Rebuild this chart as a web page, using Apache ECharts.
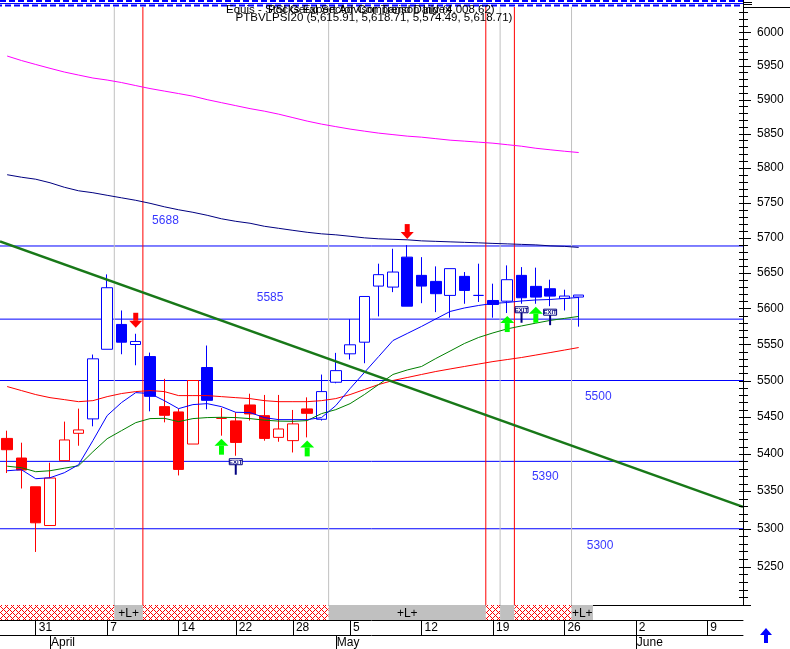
<!DOCTYPE html>
<html><head><meta charset="utf-8">
<script src="https://cdn.jsdelivr.net/npm/echarts@6/dist/echarts.min.js"></script>
<style>html,body{margin:0;padding:0;background:#fff}#c{width:790px;height:649px}</style>
</head><body><div id="c"></div>
<script>
// ---------- DATA ----------
const symbolName = 'PTBVLPSI20';
const dates = ['2014-03-27','2014-03-28','2014-03-31','2014-04-01','2014-04-02','2014-04-03','2014-04-04','2014-04-07','2014-04-08','2014-04-09','2014-04-10','2014-04-11','2014-04-14','2014-04-15','2014-04-16','2014-04-17','2014-04-22','2014-04-23','2014-04-24','2014-04-25','2014-04-28','2014-04-29','2014-04-30','2014-05-02','2014-05-05','2014-05-06','2014-05-07','2014-05-08','2014-05-09','2014-05-12','2014-05-13','2014-05-14','2014-05-15','2014-05-16','2014-05-19','2014-05-20','2014-05-21','2014-05-22','2014-05-23','2014-05-26','2014-05-27','2014-05-28','2014-05-29','2014-05-30','2014-06-02','2014-06-03','2014-06-04','2014-06-05','2014-06-06','2014-06-09','2014-06-10','2014-06-11'];
const monthNames = ['January','February','March','April','May','June','July','August','September','October','November','December'];

const opens  = [5421.0,5394.5,5355.9,5304.3,5390.9,5427.9,5447.5,5543.1,5577.6,5549.7,5533.0,5464.2,5457.0,5413.4,5517.9,5448.3,5444.8,5466.5,5451.9,5422.4,5418.0,5461.1,5447.0,5497.6,5536.8,5552.9,5631.3,5629.9,5672.2,5646.4,5637.9,5618.2,5645.0,5618.2,5611.1,5610.1,5646.4,5630.9,5627.6,5613.9,5615.91];
const highs  = [5431.5,5415.2,5355.9,5388.2,5443.8,5461.5,5535.8,5647.8,5597.1,5564.6,5538.5,5502.3,5461.5,5500.0,5548.3,5462.5,5456.5,5481.9,5480.2,5480.2,5459.7,5476.9,5508.2,5538.1,5585.0,5616.7,5662.9,5684.1,5689.3,5672.2,5659.1,5655.9,5651.1,5662.9,5634.7,5660.5,5658.1,5657.3,5640.3,5626.2,5618.71];
const lows   = [5374.3,5353.6,5269.4,5304.3,5390.9,5411.1,5437.4,5543.1,5536.2,5521.0,5457.8,5442.8,5371.1,5413.4,5460.6,5424.7,5397.6,5445.2,5417.9,5416.5,5402.0,5422.4,5445.2,5496.2,5528.9,5523.8,5588.8,5622.8,5603.1,5607.3,5594.8,5587.0,5606.5,5609.0,5587.0,5593.5,5606.5,5606.5,5603.1,5597.1,5574.49];
const closes = [5405.7,5378.4,5307.9,5367.6,5418.9,5432.5,5529.9,5629.0,5552.9,5553.9,5478.3,5452.4,5379.2,5500.0,5472.8,5448.3,5415.6,5454.3,5421.0,5433.8,5440.7,5455.1,5484.8,5513.6,5549.3,5616.7,5647.4,5651.1,5603.1,5631.3,5620.6,5655.9,5625.2,5618.2,5605.5,5640.3,5614.9,5615.8,5617.2,5617.3,5618.71];
const candleTrend = ['r','r','r','r','r','r','b','b','b','b','b','r','r','r','b','r','r','r','r','r','r','r','b','b','b','b','b','b','b','b','b','b','b','b','b','b','b','b','b','b','b'];

const maShort = [5377.4,5378.8,5366.7,5368.0,5374.7,5385.5,5418.0,5452.0,5469.7,5483.4,5482.1,5472.4,5461.5,5467.0,5468.3,5464.2,5456.5,5456.1,5449.3,5446.5,5446.5,5446.5,5449.3,5465.6,5488.9,5511.0,5533.0,5555.2,5565.0,5574.8,5585.3,5595.7,5600.6,5604.1,5606.9,5608.3,5610.4,5611.8,5612.5,5613.9,5615.3];
const maMid   = [5383.5,5381.5,5376.1,5377.4,5380.8,5384.1,5402.9,5420.6,5431.5,5442.4,5447.9,5448.3,5443.8,5447.9,5449.3,5449.7,5449.3,5447.9,5445.8,5444.5,5444.2,5445.2,5454.7,5460.1,5468.3,5480.7,5494.5,5508.3,5514.5,5519.3,5530.3,5540.6,5551.1,5559.5,5565.8,5571.4,5575.5,5579.4,5583.2,5586.0,5588.8];
const maLong  = [5491.7,5486.2,5480.7,5476.5,5473.8,5471.0,5472.4,5477.9,5482.1,5484.8,5486.2,5484.8,5479.3,5479.3,5479.3,5477.9,5476.5,5475.2,5472.4,5471.0,5471.0,5471.0,5472.4,5475.2,5480.7,5487.6,5494.5,5500.0,5504.1,5508.3,5512.4,5515.9,5519.3,5522.7,5526.1,5528.9,5531.7,5535.1,5538.5,5542.0,5545.5];
const maMagenta = [5964.5,5957.8,5951.9,5946.2,5940.7,5936.2,5931.8,5928.8,5925.1,5920.6,5916.2,5912.5,5908.8,5905.0,5899.8,5895.4,5891.0,5886.6,5882.9,5878.5,5873.4,5868.3,5863.9,5860.2,5856.6,5853.6,5850.7,5848.5,5846.3,5844.8,5842.6,5840.4,5839.0,5837.5,5836.0,5833.8,5831.6,5828.6,5826.4,5824.3,5822.4];
const maNavy = [5790.2,5786.6,5783.7,5778.6,5772.1,5767.0,5764.2,5760.5,5756.9,5753.3,5749.0,5744.0,5739.7,5736.1,5731.8,5726.8,5723.2,5720.4,5716.1,5713.2,5710.3,5707.5,5705.3,5703.9,5701.8,5699.6,5698.2,5697.5,5696.8,5695.3,5694.6,5693.9,5693.2,5692.5,5691.7,5691.0,5690.3,5689.6,5688.2,5687.5,5686.0];

const levels = [5688, 5585, 5500, 5390, 5300];
const trendLine = [[-0.5, 5694.6], [51.5, 5329.1]];
const greyMarks = [7.5, 22.5, 34.5, 39.5];
const redMarks = [9.5, 33.5, 35.5];
const buyArrows = [15, 21, 35, 37];
const sellArrows = [9, 28];
const exitSignals = [16, 36, 38];
const bandStarts = [-0.5, 7.5, 9.5, 22.5, 33.5, 34.5, 35.5, 39.5];
const bandEnds   = [7.5, 9.5, 22.5, 33.5, 34.5, 35.5, 39.5, 41];
const bandKinds  = ['S', 'L', 'S', 'L', 'S', 'N', 'S', 'L'];
const yLabelValues = [5250,5300,5350,5400,5450,5500,5550,5600,5650,5700,5750,5800,5850,5900,5950,6000];

// ---------- LAYOUT / STYLE ----------
const FONT = '"Liberation Sans", Arial, sans-serif';
const BLUE = '#0000ff', RED = '#ff0000', NAVY = '#000080';
const Y_MIN = 5200, Y_MAX = 6038;
const X_MIN = -0.5, X_MAX = 51.5;
const AXIS_X = 743;
const levelLabelSpots = [[11.08, -25], [18.4, -21], [41.37, 16], [37.66, 15], [41.5, 17]];

const majorTicks = [], minorTicks = [];
for (let v = 5200; v <= 6030; v += 10) { (v % 50 === 0 ? majorTicks : minorTicks).push(v); }

const dObjs = dates.map(s => new Date(s + 'T00:00:00Z'));
const weekTicks = [], monthTicks = [];
for (let k = 1; k < dObjs.length; k++) {
  if (dObjs[k].getUTCDay() < dObjs[k-1].getUTCDay()) weekTicks.push(k);
  if (dObjs[k].getUTCMonth() !== dObjs[k-1].getUTCMonth()) monthTicks.push(k);
}

function hatchCanvas() {
  const c = document.createElement('canvas'); c.width = 6; c.height = 6;
  const g = c.getContext('2d'); g.fillStyle = '#fff'; g.fillRect(0,0,6,6);
  g.fillStyle = RED;
  for (let k = 0; k < 6; k++) { g.fillRect(k, k, 1, 1); g.fillRect((6 - k) % 6, k, 1, 1); }
  return c;
}
const hatch = hatchCanvas();

const fmt = n => n.toLocaleString('en-US', {minimumFractionDigits: 2, maximumFractionDigits: 2});
const last = opens.length - 1;
const titleLine2 = `${symbolName} (${fmt(opens[last])}, ${fmt(highs[last])}, ${fmt(lows[last])}, ${fmt(closes[last])})`;

const candleData = opens.map((o, k) => {
  const col = candleTrend[k] === 'b' ? BLUE : RED;
  const fill = closes[k] > o ? '#ffffff' : col;
  return {value: [o, closes[k], lows[k], highs[k]],
    itemStyle: {color: fill, color0: fill, borderColor: col, borderColor0: col, borderColorDoji: col, borderWidth: 1}};
});

const lineSeries = (data, color, width, z, xIdx) => ({
  type: 'line', xAxisIndex: xIdx, yAxisIndex: 0, data, symbol: 'none', showSymbol: false,
  silent: true, z, lineStyle: {color, width}, animation: false
});

const series = [];
levels.forEach(v => series.push(lineSeries([[X_MIN, v], [X_MAX, v]], BLUE, 1, 1, 1)));
greyMarks.forEach(x => series.push(lineSeries([[x, Y_MIN], [x, Y_MAX]], '#c0c0c0', 1, 1, 1)));
redMarks.forEach(x => series.push(lineSeries([[x, Y_MIN], [x, Y_MAX]], RED, 1, 1, 1)));
series.push({type: 'candlestick', xAxisIndex: 0, yAxisIndex: 0, data: candleData, barWidth: 11, z: 3, silent: true});
series.push(lineSeries(maMagenta, '#ff00ff', 1, 4, 0));
series.push(lineSeries(maNavy, NAVY, 1, 4, 0));
series.push(lineSeries(maLong, RED, 1, 4, 0));
series.push(lineSeries(maMid, '#008000', 1, 4, 0));
series.push(lineSeries(maShort, BLUE, 1, 4, 0));
series.push(lineSeries(trendLine, '#187818', 2.5, 5, 1));

// level labels
series.push({
  type: 'scatter', xAxisIndex: 1, yAxisIndex: 0, symbolSize: 0, z: 6, silent: true,
  data: levels.map((v, j) => ({value: [levelLabelSpots[j][0], v], label: {offset: [0, levelLabelSpots[j][1]]}})),
  label: {show: true, position: 'inside', formatter: p => String(p.value[1]), color: BLUE, fontSize: 12, fontFamily: FONT}
});

// buy arrows
series.push({
  type: 'custom', xAxisIndex: 1, yAxisIndex: 0, z: 7, silent: true,
  data: buyArrows.map(k => [k, lows[k]]),
  renderItem: (p, api) => {
    const c = api.coord([api.value(0), api.value(1)]); const x = c[0], y = c[1] + 3;
    return {type: 'group', children: [
      {type: 'polygon', shape: {points: [[x, y], [x - 7, y + 7], [x + 7, y + 7]]}, style: {fill: '#00ff00'}},
      {type: 'rect', shape: {x: x - 2.5, y: y + 7, width: 5, height: 9}, style: {fill: '#00ff00'}}
    ]};
  }
});
// sell arrows
series.push({
  type: 'custom', xAxisIndex: 1, yAxisIndex: 0, z: 7, silent: true,
  data: sellArrows.map(k => [k, highs[k]]),
  renderItem: (p, api) => {
    const c = api.coord([api.value(0), api.value(1)]); const x = c[0], y = c[1] - 6;
    return {type: 'group', children: [
      {type: 'polygon', shape: {points: [[x, y], [x - 6.5, y - 7], [x + 6.5, y - 7]]}, style: {fill: RED}},
      {type: 'rect', shape: {x: x - 2.5, y: y - 15, width: 5, height: 8}, style: {fill: RED}}
    ]};
  }
});
// exit signals
series.push({
  type: 'custom', xAxisIndex: 1, yAxisIndex: 0, z: 7, silent: true,
  data: exitSignals.map(k => [k, lows[k]]),
  renderItem: (p, api) => {
    const c = api.coord([api.value(0), api.value(1)]); const x = c[0], y = c[1] + 3;
    return {type: 'group', children: [
      {type: 'rect', shape: {x: x - 6.5, y: y, width: 13, height: 6}, style: {fill: '#fff', stroke: NAVY, lineWidth: 1}},
      {type: 'text', x: x, y: y + 3.3, style: {text: 'EXIT', font: 'bold 6px ' + FONT, fill: NAVY, align: 'center', verticalAlign: 'middle'}},
      {type: 'rect', shape: {x: x - 1, y: y + 6, width: 2, height: 10}, style: {fill: NAVY}}
    ]};
  }
});
// signal band
series.push({
  type: 'custom', xAxisIndex: 2, yAxisIndex: 1, z: 2, silent: true, clip: false,
  data: bandStarts.map((s, j) => [s, bandEnds[j], j]),
  encode: {x: [0, 1]},
  renderItem: (p, api) => {
    const j = api.value(2);
    const a = api.coord([api.value(0), 1]); const b = api.coord([api.value(1), 0]);
    const kind = bandKinds[j];
    const children = [{type: 'rect', shape: {x: a[0], y: a[1], width: b[0] - a[0], height: b[1] - a[1]},
      style: {fill: kind === 'S' ? {image: hatch, repeat: 'repeat'} : '#c0c0c0'}}];
    if (kind === 'L') children.push({type: 'text', x: (a[0] + b[0]) / 2, y: (a[1] + b[1]) / 2 + 1,
      style: {text: '+L+', font: '12px ' + FONT, fill: '#000', align: 'center', verticalAlign: 'middle'}});
    return {type: 'group', children};
  }
});

const staticGraphic = [
  {type: 'line', z: 50, silent: true, shape: {x1: 0, y1: 1, x2: 743, y2: 1}, style: {stroke: BLUE, lineWidth: 2, lineDash: [6, 3]}},
  {type: 'line', z: 50, silent: true, shape: {x1: 0, y1: 3.5, x2: 743, y2: 3.5}, style: {stroke: BLUE, lineWidth: 1}},
  {type: 'line', z: 50, silent: true, shape: {x1: 0, y1: 5.5, x2: 743, y2: 5.5}, style: {stroke: BLUE, lineWidth: 2, lineDash: [6, 3], lineDashOffset: 4}},
  {type: 'line', z: 50, silent: true, shape: {x1: 743.5, y1: 0, x2: 743.5, y2: 7}, style: {stroke: '#000', lineWidth: 1}},
  {type: 'line', z: 50, silent: true, shape: {x1: 743, y1: 7.5, x2: 790, y2: 7.5}, style: {stroke: '#000', lineWidth: 1}},
  {type: 'line', z: 50, silent: true, shape: {x1: 743, y1: 2.5, x2: 752, y2: 2.5}, style: {stroke: '#000', lineWidth: 1}},
  {type: 'line', z: 50, silent: true, shape: {x1: 743, y1: 4.5, x2: 752, y2: 4.5}, style: {stroke: '#000', lineWidth: 1}},
  {type: 'text', z: 60, silent: true, x: 226, y: 10, style: {text: 'Equis - Stocks Expert Advisor Trend Daily (4,008.62)', font: '11.5px ' + FONT, fill: '#000', align: 'left', verticalAlign: 'middle'}},
  {type: 'text', z: 60, silent: true, x: 268, y: 10, style: {text: 'PSI Geral Sector Comparison Index', font: '11.5px ' + FONT, fill: '#000', align: 'left', verticalAlign: 'middle'}},
  {type: 'text', z: 60, silent: true, x: 374, y: 17.5, style: {text: titleLine2, font: '11.5px ' + FONT, fill: '#000', align: 'center', verticalAlign: 'middle'}},
  {type: 'polygon', z: 60, silent: true, shape: {points: [[766, 628], [760, 635], [772, 635]]}, style: {fill: BLUE}},
  {type: 'rect', z: 60, silent: true, shape: {x: 764, y: 635, width: 4, height: 8}, style: {fill: BLUE}}
];

const option = {
  animation: false,
  backgroundColor: '#ffffff',
  grid: [
    {left: 0, right: 47, top: 7, height: 598},
    {left: 0, right: 47, top: 605, height: 15}
  ],
  xAxis: [
    {type: 'category', gridIndex: 0, data: dates, boundaryGap: true, position: 'bottom', show: false},
    {type: 'value', gridIndex: 0, min: X_MIN, max: X_MAX, position: 'bottom',
      axisLine: {show: true, onZero: false, lineStyle: {color: '#000', width: 1}}, axisTick: {show: false}, axisLabel: {show: false}, splitLine: {show: false}},
    {type: 'value', gridIndex: 1, min: X_MIN, max: X_MAX, position: 'bottom',
      axisLine: {show: true, onZero: false, lineStyle: {color: '#000', width: 1}},
      axisTick: {show: true, customValues: weekTicks, length: 15, lineStyle: {color: '#000'}},
      axisLabel: {show: true, customValues: weekTicks, formatter: v => String(dObjs[Math.round(v)].getUTCDate()),
        align: 'left', margin: 2, padding: [0, 0, 0, 3], color: '#000', fontSize: 12, fontFamily: FONT},
      splitLine: {show: false}},
    {type: 'value', gridIndex: 1, min: X_MIN, max: X_MAX, position: 'bottom', offset: 15,
      axisLine: {show: true, onZero: false, lineStyle: {color: '#000', width: 1}},
      axisTick: {show: true, customValues: monthTicks, length: 14, lineStyle: {color: '#000'}},
      axisLabel: {show: true, customValues: monthTicks, formatter: v => monthNames[dObjs[Math.round(v)].getUTCMonth()],
        align: 'left', margin: 2, padding: [0, 0, 0, 1], color: '#000', fontSize: 12, fontFamily: FONT},
      splitLine: {show: false}}
  ],
  yAxis: [
    {type: 'log', logBase: 10, gridIndex: 0, position: 'right', min: Y_MIN, max: Y_MAX,
      axisLine: {show: true, onZero: false, lineStyle: {color: '#000', width: 1}},
      axisTick: {show: false},
      axisLabel: {show: true, customValues: yLabelValues, formatter: v => String(Math.round(v)), margin: 14, color: '#000', fontSize: 12, fontFamily: FONT},
      splitLine: {show: false}},
    {type: 'value', gridIndex: 1, min: 0, max: 1, show: false}
  ],
  series,
  graphic: staticGraphic
};

const chart = echarts.init(document.getElementById('c'), null, {renderer: 'canvas', width: 790, height: 649});
chart.setOption(option);

// price-axis tick marks: positioned through the chart's own y scale
const tickEls = [];
majorTicks.concat(minorTicks).forEach(v => {
  let y = chart.convertToPixel({yAxisIndex: 0}, v);
  if (Array.isArray(y)) y = y[1];
  if (!isFinite(y)) return;
  const major = v % 50 === 0;
  const yy = Math.round(y) + 0.5;
  tickEls.push({type: 'line', z: 70, silent: true,
    shape: {x1: AXIS_X - 4, y1: yy, x2: AXIS_X + (major ? 8 : 5), y2: yy},
    style: {stroke: '#000', lineWidth: 1}});
});
chart.setOption({graphic: staticGraphic.concat(tickEls)});
</script>
</body></html>
